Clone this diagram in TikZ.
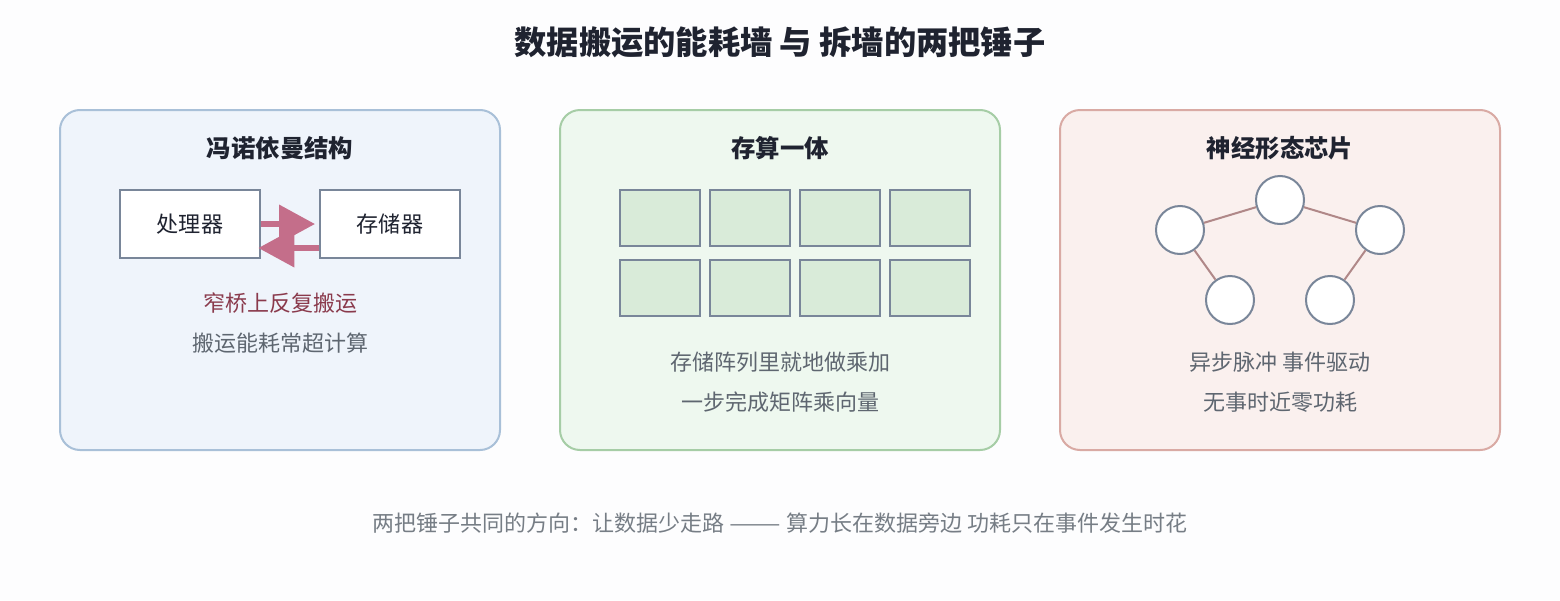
\documentclass[tikz,border=0pt]{standalone}
\usepackage{fontspec}
\setmainfont{Noto Sans CJK SC}
\usetikzlibrary{arrows.meta}

\definecolor{pagebg}{HTML}{FDFDFE}
\definecolor{inktitle}{HTML}{1F2330}
\definecolor{inkbody}{HTML}{5E6670}
\definecolor{inkwarn}{HTML}{8A3A4C}
\definecolor{slate}{HTML}{798699}
\definecolor{vnfill}{HTML}{EFF4FB}
\definecolor{vnline}{HTML}{A9C0D8}
\definecolor{cimfill}{HTML}{EEF8EF}
\definecolor{cimline}{HTML}{A6CDA6}
\definecolor{cellfill}{HTML}{D9EBD9}
\definecolor{nmfill}{HTML}{FAF0EE}
\definecolor{nmline}{HTML}{D9AAA4}
\definecolor{flowcol}{HTML}{C46E8A}
\definecolor{synapse}{HTML}{B08888}

\tikzset{
  panel/.style={line width=1.5pt, rounded corners=15pt},
  unit/.style={draw=slate, fill=white, line width=1.5pt, minimum width=105pt,
    minimum height=51pt, inner sep=0pt, text=inktitle,
    font=\fontsize{16.6}{20}\selectfont},
  cell/.style={draw=slate, fill=cellfill, line width=1.5pt, minimum width=60pt,
    minimum height=42pt, inner sep=0pt},
  neuron/.style={circle, draw=slate, fill=white, line width=1.5pt,
    minimum size=36pt, inner sep=0pt},
  flow/.style={draw=flowcol, line width=4.5pt,
    -{Triangle[length=27pt, width=28pt]}},
  head/.style={text=inktitle, font=\bfseries\fontsize{18.3}{22}\selectfont},
  note/.style={text=inkbody, font=\fontsize{16.5}{20}\selectfont},
}

\begin{document}
\begin{tikzpicture}[x=0.75pt, y=-0.75pt]
  \fill[pagebg] (0, 0) rectangle (1560, 600);

  \node[text=inktitle, font=\bfseries\fontsize{24.2}{28}\selectfont] (title) at (780, 42)
    {数据搬运的能耗墙 与 拆墙的两把锤子};

  % panels
  \draw[panel, draw=vnline, fill=vnfill] (60, 110) rectangle (500, 450);
  \draw[panel, draw=cimline, fill=cimfill] (560, 110) rectangle (1000, 450);
  \draw[panel, draw=nmline, fill=nmfill] (1060, 110) rectangle (1500, 450);

  % von Neumann
  \node[head] (vnhead) at (280, 148) {冯诺依曼结构};
  \node[unit] (cpu) at (190, 224) {处理器};
  \node[unit] (mem) at (390, 224) {存储器};
  \draw[flow, shorten >=3pt] (cpu.east) -- (mem.west);
  \draw[flow, shorten >=-2pt] ([yshift=-18pt]mem.west) -- ([yshift=-18pt]cpu.east);
  \node[note, text=inkwarn] (vnnote1) at (280, 303) {窄桥上反复搬运};
  \node[note] (vnnote2) at (280, 343) {搬运能耗常超计算};

  % compute in memory
  \node[head] (cimhead) at (780, 148) {存算一体};
  \foreach \r/\y in {1/218, 2/288}
    \foreach \c/\x in {1/660, 2/750, 3/840, 4/930}
      \node[cell] (cell-\r-\c) at (\x, \y) {};
  \node[note] (cimnote1) at (780, 362) {存储阵列里就地做乘加};
  \node[note] (cimnote2) at (780, 402) {一步完成矩阵乘向量};

  % neuromorphic
  \node[head] (nmhead) at (1280, 148) {神经形态芯片};
  \node[neuron] (n1) at (1180, 230) {};
  \node[neuron] (n2) at (1280, 200) {};
  \node[neuron] (n3) at (1380, 230) {};
  \node[neuron] (n4) at (1230, 300) {};
  \node[neuron] (n5) at (1330, 300) {};
  \draw[synapse, line width=1.5pt] (n1) -- (n2);
  \draw[synapse, line width=1.5pt] (n2) -- (n3);
  \draw[synapse, line width=1.5pt] (n1) -- (n4);
  \draw[synapse, line width=1.5pt] (n3) -- (n5);
  \node[note] (nmnote1) at (1280, 362) {异步脉冲 事件驱动};
  \node[note] (nmnote2) at (1280, 402) {无事时近零功耗};

  \node[note, text=inkbody!85!white] (summary) at (780, 523)
    {两把锤子共同的方向：让数据少走路 \scalebox{1.4}[1]{——} 算力长在数据旁边 功耗只在事件发生时花};
\end{tikzpicture}
\end{document}
